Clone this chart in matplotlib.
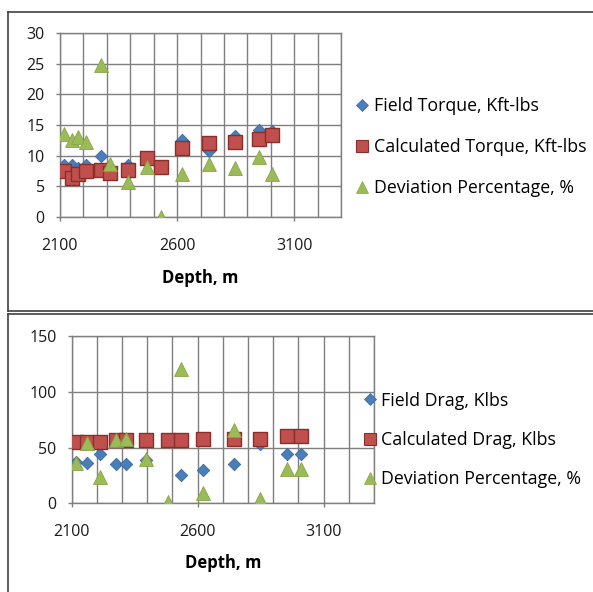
import matplotlib.pyplot as plt
from matplotlib.lines import Line2D
from matplotlib.ticker import MultipleLocator

# torque run
depth_torque = [2117, 2152, 2175, 2211, 2276, 2313, 2391, 2473, 2531, 2621, 2736, 2847, 2948, 3006]
field_torque = [8.5, 8.5, 8.0, 8.5, 10.0, 8.0, 8.5, 9.5, 8.2, 12.5, 10.8, 13.2, 14.2, 14.0]
calc_torque = [7.4, 6.3, 7.0, 7.5, 7.6, 7.2, 7.6, 9.6, 8.2, 11.2, 12.1, 12.3, 12.7, 13.4]
dev_torque = [13.6, 12.5, 13.1, 12.3, 24.8, 8.7, 5.7, 8.2, 0.0, 7.0, 8.7, 7.9, 9.8, 7.0]

# drag run
depth_drag = [2118, 2162, 2213, 2275, 2314, 2394, 2484, 2533, 2622, 2743, 2848, 2955, 3010]
field_drag = [37, 36, 44, 35, 35, 39, 56, 25, 30, 35, 53, 44, 44]
calc_drag = [55, 55, 55, 57, 57, 57, 57, 57, 58, 58, 58, 60, 60]
dev_drag = [36, 54, 24, 57, 58, 40, 1.5, 120, 9, 66, 4, 31, 31]

depth_ticks = [2100, 2600, 3100]
torque_labels = ["Field Torque, Kft-lbs", "Calculated Torque, Kft-lbs", "Deviation Percentage, %"]
drag_labels = ["Field Drag, Klbs", "Calculated Drag, Klbs", "Deviation Percentage, %"]

plt.rcParams['font.family'] = ['Open Sans', 'DejaVu Sans']

BLUE, BLUE_EDGE = "#4A7EBB", "#3A6A9F"
RED, RED_EDGE = "#C0504D", "#8A2E2B"
GREEN, GREEN_EDGE = "#9BBB59", "#86A544"
GRID = "#7F7F7F"

W, H = 593, 592
fig = plt.figure(figsize=(W / 100, H / 100), dpi=100)


def px_axes(x0, y0, x1, y1):
    # axes placed by pixel box (top-left origin)
    return fig.add_axes([x0 / W, 1 - y1 / H, (x1 - x0) / W, (y1 - y0) / H])


def style_axes(ax, ymax, ystep):
    ax.set_xlim(2100, 3300)
    ax.set_ylim(0, ymax)
    ax.set_xticks(depth_ticks)
    ax.xaxis.set_minor_locator(MultipleLocator(100))
    ax.yaxis.set_major_locator(MultipleLocator(ystep))
    ax.grid(True, which='both', color=GRID, lw=1.0, zorder=0)
    ax.set_axisbelow(True)
    for sp in ax.spines.values():
        sp.set_color(GRID)
        sp.set_linewidth(1.0)
    ax.tick_params(axis='both', which='major', direction='out', length=3,
                   width=1.0, color=GRID, labelsize=11.5, labelcolor="#1a1a1a")
    ax.tick_params(axis='x', which='major', pad=12)
    ax.tick_params(axis='y', which='major', pad=8)
    ax.tick_params(which='minor', length=0)


def draw_series(ax, depth, field, calc, dev, s_sq, s_tri, s_dia):
    ax.scatter(depth, field, marker='D', s=s_dia, color=BLUE, edgecolor=BLUE_EDGE,
               linewidth=0.6, zorder=3)
    ax.scatter(depth, calc, marker='s', s=s_sq, color=RED, edgecolor=RED_EDGE,
               linewidth=1.0, zorder=4)
    ax.scatter(depth, dev, marker='^', s=s_tri, color=GREEN, edgecolor=GREEN_EDGE,
               linewidth=0.6, zorder=5)


def legend_handles():
    return [
        Line2D([], [], ls='none', marker='D', ms=6, color=BLUE, mec=BLUE_EDGE, mew=0.5),
        Line2D([], [], ls='none', marker='s', ms=8.5, color=RED, mec=RED_EDGE, mew=0.8),
        Line2D([], [], ls='none', marker='^', ms=9, color=GREEN, mec=GREEN_EDGE, mew=0.5),
    ]


# --- torque panel ---
ax1 = px_axes(60, 33.3, 341, 216.7)
style_axes(ax1, 30, 5)
draw_series(ax1, depth_torque, field_torque, calc_torque, dev_torque, 105, 100, 40)
ax1.set_xlabel("Depth, m", fontsize=12, fontweight='bold', labelpad=11)
fig.legend(legend_handles(), torque_labels, loc='center left',
           bbox_to_anchor=(357 / W, 1 - 147 / H), frameon=False, fontsize=12.8,
           handlelength=0.6, handletextpad=0.35, labelspacing=1.3, borderpad=0,
           borderaxespad=0)

# --- drag panel ---
ax2 = px_axes(71.7, 336, 374, 503.3)
style_axes(ax2, 150, 50)
draw_series(ax2, depth_drag, field_drag, calc_drag, dev_drag, 105, 100, 40)
ax2.set_xlabel("Depth, m", fontsize=12, fontweight='bold', labelpad=10)
fig.legend(legend_handles(), drag_labels, loc='center left',
           bbox_to_anchor=(365 / W, 1 - 440 / H), frameon=False, fontsize=12.8,
           handlelength=0.6, handletextpad=0.3, labelspacing=1.2, borderpad=0,
           borderaxespad=0)

# panel frames
def frame_line(xs, ys):
    fig.add_artist(Line2D([x / W for x in xs], [1 - y / H for y in ys],
                          color="#404040", lw=1.2))

frame_line([8, 593], [12, 12])
frame_line([8, 8], [12, 311])
frame_line([8, 593], [311, 311])
frame_line([8, 593], [314, 314])
frame_line([8, 8], [314, 592])

fig.savefig("out.png", dpi=100)
